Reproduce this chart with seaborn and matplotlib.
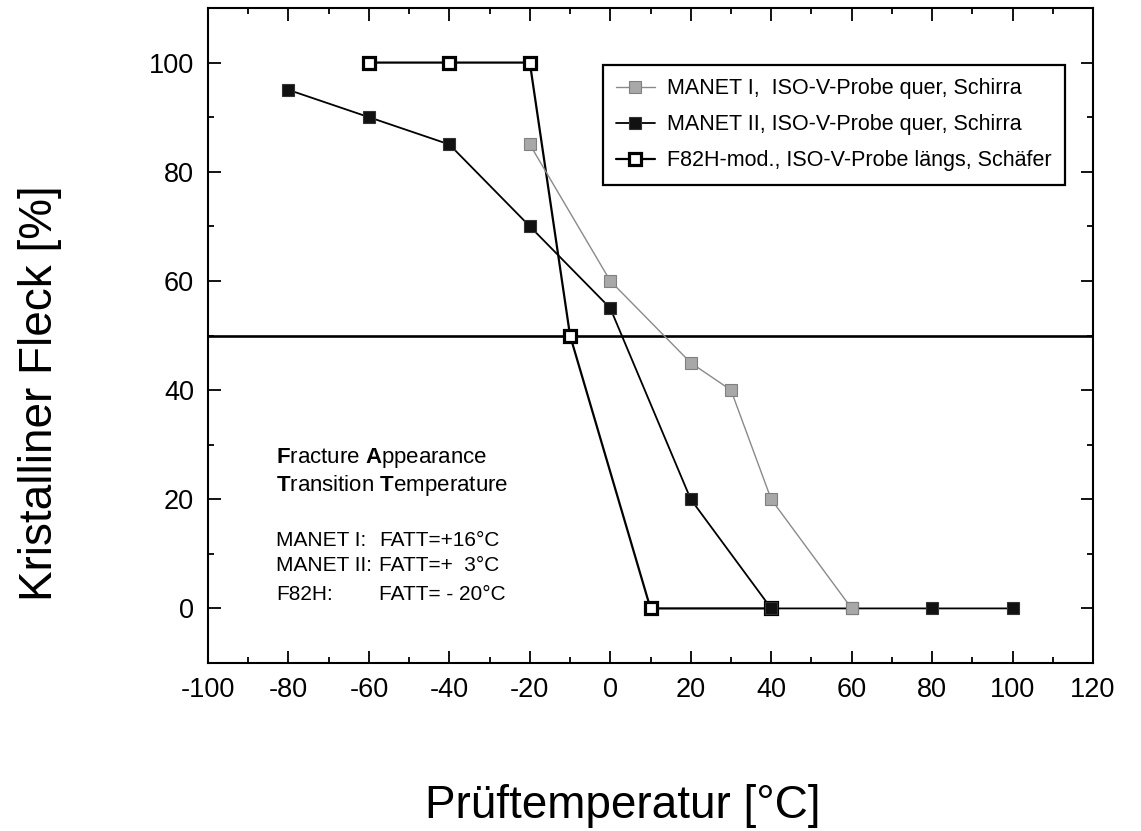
import numpy as np
import pandas as pd
import matplotlib
matplotlib.use("Agg")
import matplotlib.pyplot as plt
import seaborn as sns
from matplotlib.ticker import MultipleLocator

# ---- data ----
manet1_temp = [-20, 0, 20, 30, 40, 60]
manet1_fleck = [85, 60, 45, 40, 20, 0]
manet2_temp = [-80, -60, -40, -20, 0, 20, 40, 60, 80, 100]
manet2_fleck = [95, 90, 85, 70, 55, 20, 0, 0, 0, 0]
f82h_temp = [-60, -40, -20, -10, 10, 40]
f82h_fleck = [100, 100, 100, 50, 0, 0]
series_labels = ["MANET I,  ISO-V-Probe quer, Schirra",
                 "MANET II, ISO-V-Probe quer, Schirra",
                 "F82H-mod., ISO-V-Probe längs, Schäfer"]
fatt_level = 50
x_ticks = [-100, -80, -60, -40, -20, 0, 20, 40, 60, 80, 100, 120]
y_ticks = [0, 20, 40, 60, 80, 100]
fatt_names = ["MANET I:", "MANET II:", "F82H:"]
fatt_values = ["FATT=+16°C", "FATT=+  3°C", "FATT= - 20°C"]

sns.set_theme(style="ticks")
plt.rcParams["font.family"] = ["Liberation Sans", "DejaVu Sans"]
plt.rcParams["mathtext.fontset"] = "custom"
plt.rcParams["mathtext.rm"] = "Liberation Sans"
plt.rcParams["mathtext.bf"] = "Liberation Sans:bold"
plt.rcParams["axes.unicode_minus"] = False
for k in ["text.color", "axes.labelcolor", "xtick.color", "ytick.color",
          "axes.edgecolor"]:
    plt.rcParams[k] = "black"

W, H = 1141, 831
fig = plt.figure(figsize=(W / 100, H / 100), dpi=100)
ax = fig.add_axes([208 / W, 1 - 663 / H, 885 / W, 655 / H])

df_f82h = pd.DataFrame({"T": f82h_temp, "F": f82h_fleck})
df_m2 = pd.DataFrame({"T": manet2_temp, "F": manet2_fleck})
df_m1 = pd.DataFrame({"T": manet1_temp, "F": manet1_fleck})

sns.lineplot(data=df_f82h, x="T", y="F", ax=ax, color="black", lw=1.6,
             marker="s", markersize=8.5, markerfacecolor="white",
             markeredgecolor="black", markeredgewidth=2.3,
             label=series_labels[2], zorder=3)
sns.lineplot(data=df_m2, x="T", y="F", ax=ax, color="black", lw=1.3,
             marker="s", markersize=9, markerfacecolor="#111111",
             markeredgecolor="#333333", markeredgewidth=0.8,
             label=series_labels[1], zorder=4)
sns.lineplot(data=df_m1, x="T", y="F", ax=ax, color="#8a8a8a", lw=1.0,
             marker="s", markersize=8.5, markerfacecolor="#a8a8a8",
             markeredgecolor="#808080", markeredgewidth=0.8,
             label=series_labels[0], zorder=5)

ax.axhline(fatt_level, color="black", lw=1.9, zorder=2)

ax.set_xlim(-100, 120)
ax.set_ylim(-10, 110)
ax.set_xticks(x_ticks)
ax.set_yticks(y_ticks)
ax.xaxis.set_minor_locator(MultipleLocator(10))
ax.yaxis.set_minor_locator(MultipleLocator(10))
ax.tick_params(which="both", direction="in", top=True, right=True,
               width=1.3, color="black", labelcolor="black")
ax.tick_params(which="major", length=9, labelsize=19.5, pad=10)
ax.tick_params(which="minor", length=4.5)
for s in ax.spines.values():
    s.set_linewidth(1.5)
    s.set_color("black")
ax.grid(False)

ax.set_xlabel("Prüftemperatur [°C]", fontsize=33, va="baseline", color="black")
ax.xaxis.set_label_coords(623 / W, 1 - 818 / H, transform=fig.transFigure)
ax.set_ylabel("Kristalliner Fleck [%]", fontsize=33, va="baseline", color="black")
ax.yaxis.set_label_coords(52 / W, 1 - 393 / H, transform=fig.transFigure)

handles, labels = ax.get_legend_handles_labels()
order = [labels.index(l) for l in series_labels]
leg = ax.legend([handles[i] for i in order], [labels[i] for i in order],
                loc="upper left", bbox_to_anchor=(0.446, 0.913),
                borderaxespad=0, frameon=True, fancybox=False,
                edgecolor="black", framealpha=1, fontsize=15.5,
                handlelength=1.8, borderpad=0.62, labelspacing=0.7,
                handletextpad=0.55)
leg.get_frame().set_linewidth(1.6)

# annotation
ax.text(-83, 26.7, r"$\mathbf{F}$racture $\mathbf{A}$ppearance", fontsize=16,
        va="baseline", ha="left")
ax.text(-83, 21.6, r"$\mathbf{T}$ransition $\mathbf{T}$emperature", fontsize=16,
        va="baseline", ha="left")
for yb, nm, val in zip([11.4, 6.8, 1.6], fatt_names, fatt_values):
    ax.text(-83, yb, nm, fontsize=15, va="baseline", ha="left")
    ax.text(-57.5, yb, val, fontsize=15, va="baseline", ha="left")

fig.savefig("out.png", dpi=100)
